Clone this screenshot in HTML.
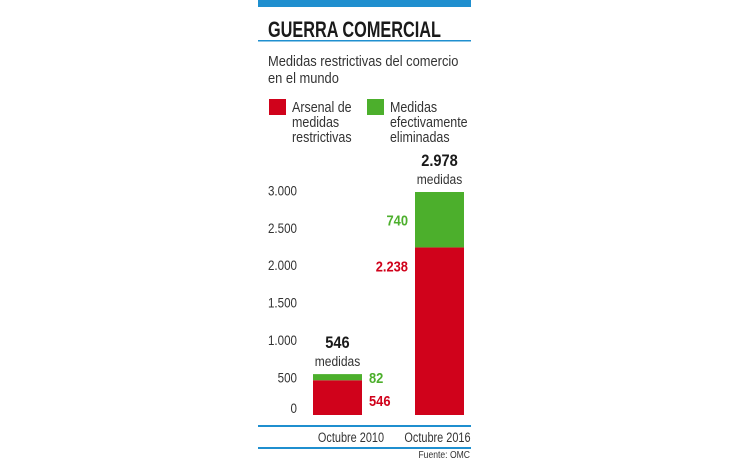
<!DOCTYPE html>
<html><head><meta charset="utf-8"><style>
body{margin:0;background:#fff;width:730px;height:460px;overflow:hidden;font-family:"Liberation Sans",sans-serif;color:#222}
</style></head><body>
<svg id="c" width="730" height="460" xmlns="http://www.w3.org/2000/svg">
<rect x="258" y="0" width="213" height="7" fill="#1f8fcf"/>
<text x="268" y="37" font-size="22" font-weight="bold" fill="#1a1a1a" class="s74">GUERRA COMERCIAL</text>
<rect x="258" y="40" width="213" height="1.5" fill="#1f8fcf"/>
<text x="268" y="66" font-size="15" fill="#333">Medidas restrictivas del comercio</text>
<text x="268" y="83" font-size="15" fill="#333">en el mundo</text>
<g>
<rect x="269" y="99" width="17" height="16" fill="#d0021b"/>
<text x="292" y="112" font-size="14.5" fill="#333"><tspan x="292">Arsenal de</tspan><tspan x="292" dy="15">medidas</tspan><tspan x="292" dy="15">restrictivas</tspan></text>
<rect x="367" y="99" width="17" height="16" fill="#4caf2c"/>
<text x="390" y="112" font-size="14.5" fill="#333"><tspan x="390">Medidas</tspan><tspan x="390" dy="15">efectivamente</tspan><tspan x="390" dy="15">eliminadas</tspan></text>
</g>
<g id="plot"></g>
<rect x="258" y="425" width="213" height="2" fill="#1f8fcf"/>
<rect x="258" y="447" width="213" height="2" fill="#1f8fcf"/>
<text x="470" y="458" font-size="10" text-anchor="end" fill="#333">Fuente: OMC</text>
</svg>
<script>
const categories=["Octubre 2010","Octubre 2016"];
const redValues=[464,2238];
const greenValues=[82,740];
const redLabels=["546","2.238"];
const greenLabels=["82","740"];
const totalLabels=["546","2.978"];
const ticks=[0,500,1000,1500,2000,2500,3000];
const tickLabels=["0","500","1.000","1.500","2.000","2.500","3.000"];
const NS="http://www.w3.org/2000/svg";
const g=document.getElementById('plot');
const y0=415,k=223/2978;
const y=v=>y0-v*k;
const barX=[313,415],bw=49;
function t(x,yy,s,size,fill,anchor,bold){const e=document.createElementNS(NS,'text');e.setAttribute('x',x);e.setAttribute('y',yy);e.setAttribute('font-size',size);e.setAttribute('fill',fill);e.setAttribute('text-anchor',anchor);if(bold)e.setAttribute('font-weight','bold');e.textContent=s;g.appendChild(e);return e;}
function r(x,yy,w,h,fill){const e=document.createElementNS(NS,'rect');e.setAttribute('x',x);e.setAttribute('y',yy);e.setAttribute('width',w);e.setAttribute('height',h);e.setAttribute('fill',fill);g.appendChild(e);return e;}
ticks.forEach((v,i)=>{const cy=Math.min(y(v),408);const e=t(297,cy+5,tickLabels[i],13.5,'#333','end');

});
categories.forEach((c,i)=>{
const x=barX[i],rv=redValues[i],gv=greenValues[i];
const rb=r(x,y(rv),bw,y0-y(rv),'#d0021b');


const gb=r(x,y(rv+gv),bw,y(rv)-y(rv+gv),'#4caf2c');


const cx=x+bw/2,top=y(rv+gv);
const tl=t(cx,top-26,totalLabels[i],17,'#1a1a1a','middle',true);


const ml=t(cx,top-8,'medidas',14,'#333','middle');


const cl=t(i===0?351:437.5,442,c,14,'#333','middle');
cl.setAttribute('class','s78');


let gl,rl;
if(i===0){gl=t(369,y(rv+gv/2)+6,greenLabels[i],15,'#4caf2c','start',true);rl=t(369,y(rv)+26,redLabels[i],15,'#d0021b','start',true);}
else{gl=t(408,y(rv+gv/2)+6,greenLabels[i],15,'#4caf2c','end',true);rl=t(408,y(rv)+24,redLabels[i],15,'#d0021b','end',true);}




});
document.querySelectorAll('text').forEach(e=>{
let s=0.86;
if(e.classList.contains('s74'))s=0.74;
if(e.classList.contains('s78'))s=0.78;
const x=parseFloat(e.getAttribute('x'));
e.setAttribute('transform',`translate(${x} 0) scale(${s} 1) translate(${-x} 0)`);
});
</script>
</body></html>
